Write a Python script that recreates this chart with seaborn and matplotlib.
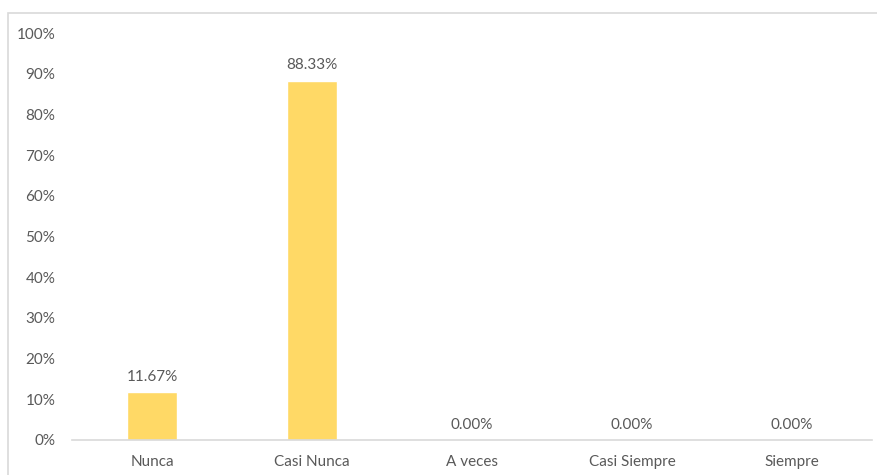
import matplotlib
matplotlib.use("Agg")
import matplotlib.pyplot as plt
import seaborn as sns
import pandas as pd
from matplotlib.patches import Rectangle
from matplotlib.ticker import PercentFormatter

# Datos del gráfico
categorias = ["Nunca", "Casi Nunca", "A veces", "Casi Siempre", "Siempre"]
porcentajes = [0.1167, 0.8833, 0.0, 0.0, 0.0]
etiquetas = ["11.67%", "88.33%", "0.00%", "0.00%", "0.00%"]

df = pd.DataFrame({"categoria": categorias, "valor": porcentajes})

sns.set_theme(style="white")
plt.rcParams["font.family"] = ["Lato", "DejaVu Sans"]

gris = "#595959"
fig = plt.figure(figsize=(8.78, 4.75), dpi=100)
ax = fig.add_axes([0.082, 0.0737, 0.911, 0.8568])

sns.barplot(data=df, x="categoria", y="valor", color="#FFD966",
            width=0.31, saturation=1, ax=ax)

for bar, txt in zip(ax.patches, etiquetas):
    ax.annotate(txt, (bar.get_x() + bar.get_width() / 2, bar.get_height()),
                xytext=(0, 6), textcoords="offset points",
                ha="center", va="bottom", fontsize=11, color=gris)

ax.set_ylim(0, 1)
ax.set_yticks([i / 10 for i in range(11)])
ax.yaxis.set_major_formatter(PercentFormatter(1.0, decimals=0))
ax.set_xlabel("")
ax.set_ylabel("")
ax.tick_params(axis="both", length=0, labelsize=11, labelcolor=gris)
ax.tick_params(axis="y", pad=12)
ax.tick_params(axis="x", pad=11)

for s in ["top", "right", "left"]:
    ax.spines[s].set_visible(False)
ax.spines["bottom"].set_color("#D9D9D9")
ax.spines["bottom"].set_linewidth(1.2)

# Borde del área del gráfico
fig.add_artist(Rectangle((8 / 878, -0.05), 1.1, 1 - 13.5 / 475 + 0.05,
                         transform=fig.transFigure, fill=False,
                         edgecolor="#D9D9D9", linewidth=1.2))

fig.savefig("out.png", dpi=100)
